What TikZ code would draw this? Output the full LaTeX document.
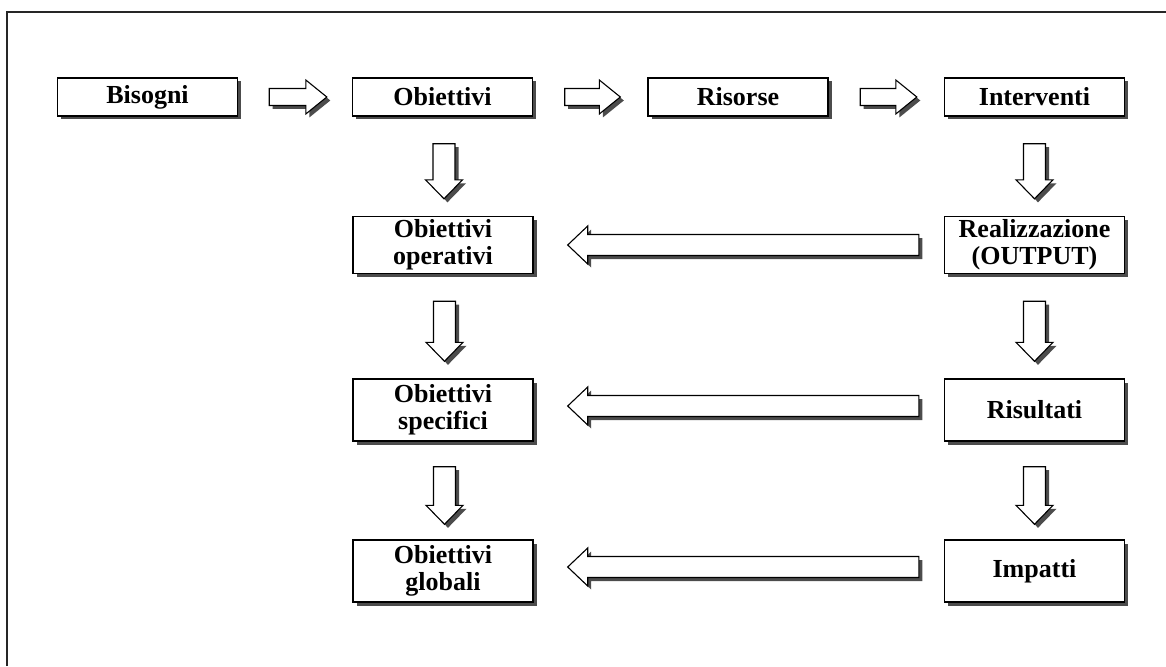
\documentclass[tikz,border=0pt]{standalone}
\usepackage{fontspec}
\setmainfont{Liberation Serif}
\usetikzlibrary{shadows,calc}
\tikzset{
  shd/.style={drop shadow={shadow xshift=3.5pt,shadow yshift=-3.5pt,fill=black!70,opacity=1}},
  box/.style={draw,line width=1.4pt,fill=white,shd,align=center,inner sep=0pt,
    minimum width=180pt,font=\bfseries\fontsize{26}{26}\selectfont},
  blk/.style={draw,line width=1.1pt,fill=white,shd,line join=miter},
}
% horizontal block arrow: #1 tail, #2 tip, #3 half body, #4 half head, #5 signed head length
\newcommand\hblock[5]{%
  \path[blk] let \p1=(#1), \p2=(#2) in
    (\x1,\y1+#3) -- (\x2-#5,\y1+#3) -- (\x2-#5,\y1+#4) -- (\x2,\y1)
    -- (\x2-#5,\y1-#4) -- (\x2-#5,\y1-#3) -- (\x1,\y1-#3) -- cycle;}
% vertical (downward) block arrow
\newcommand\vblock[5]{%
  \path[blk] let \p1=(#1), \p2=(#2) in
    (\x1-#3,\y1) -- (\x1-#3,\y2+#5) -- (\x1-#4,\y2+#5) -- (\x1,\y2)
    -- (\x1+#4,\y2+#5) -- (\x1+#3,\y2+#5) -- (\x1+#3,\y1) -- cycle;}
\begin{document}
\begin{tikzpicture}[x=1pt,y=-1pt]
\useasboundingbox (0,0) rectangle (1166,666);
\draw[line width=2pt,black!85] (6.5,666) -- (6.5,12.5) -- (1166,12.5);

% top row
\node[box,minimum height=38pt] (bis) at (147.5,97) {Bisogni};
\node[box,minimum height=38pt] (obi) at (442.5,97) {Obiettivi};
\node[box,minimum height=38pt] (ris) at (738,97) {Risorse};
\node[box,minimum height=38pt] (int) at (1034.5,97) {Interventi};
% left column
\node[box,minimum height=57pt] (op) at (443,245) {Obiettivi\\[1pt]operativi};
\node[box,minimum height=62pt] (spec) at (443,410) {Obiettivi\\[1pt]specifici};
\node[box,minimum height=62pt] (glob) at (443,571) {Obiettivi\\[1pt]globali};
% right column
\node[box,minimum height=57pt] (real) at (1034.5,245) {Realizzazione\\[1pt](OUTPUT)};
\node[box,minimum height=62pt] (risu) at (1034.5,410) {Risultati};
\node[box,minimum height=62pt] (imp) at (1034.5,571) {Impatti};

% top horizontal arrows
\coordinate (a1t) at ($(bis.east)+(31,0)$);  \coordinate (a1h) at ($(obi.west)+(-25,0)$);
\coordinate (a2t) at ($(obi.east)+(31.5,0)$); \coordinate (a2h) at ($(ris.west)+(-27,0)$);
\coordinate (a3t) at ($(ris.east)+(31.5,0)$); \coordinate (a3h) at ($(int.west)+(-27,0)$);
\hblock{a1t}{a1h}{8.5}{17}{21}
\hblock{a2t}{a2h}{8.5}{17}{21}
\hblock{a3t}{a3h}{8.5}{17}{21}

% vertical arrows
\coordinate (v1t) at ($(obi.south)+(1.5,27)$);  \coordinate (v1h) at ($(op.north)+(1.5,-17)$);
\coordinate (v2t) at ($(op.south)+(1.5,27)$);   \coordinate (v2h) at ($(spec.north)+(1.5,-17)$);
\coordinate (v3t) at ($(spec.south)+(1.5,25)$); \coordinate (v3h) at ($(glob.north)+(1.5,-15)$);
\coordinate (w1t) at ($(int.south)+(0,27)$);  \coordinate (w1h) at ($(real.north)+(0,-17)$);
\coordinate (w2t) at ($(real.south)+(0,27)$); \coordinate (w2h) at ($(risu.north)+(0,-17)$);
\coordinate (w3t) at ($(risu.south)+(0,25)$); \coordinate (w3h) at ($(imp.north)+(0,-15)$);
\foreach \t/\h in {v1t/v1h,v2t/v2h,v3t/v3h,w1t/w1h,w2t/w2h,w3t/w3h}{\vblock{\t}{\h}{11}{18.5}{19}}

% long leftward arrows
\coordinate (l1t) at ($(real.west)+(-25,0)$); \coordinate (l1h) at ($(op.east)+(34,0)$);
\coordinate (l2t) at ($(risu.west)+(-25,-4)$); \coordinate (l2h) at ($(spec.east)+(34,-4)$);
\coordinate (l3t) at ($(imp.west)+(-25,-4)$); \coordinate (l3h) at ($(glob.east)+(34,-4)$);
\hblock{l1t}{l1h}{10.5}{19}{-20}
\hblock{l2t}{l2h}{10.5}{19}{-20}
\hblock{l3t}{l3h}{10.5}{19}{-20}
\end{tikzpicture}
\end{document}
